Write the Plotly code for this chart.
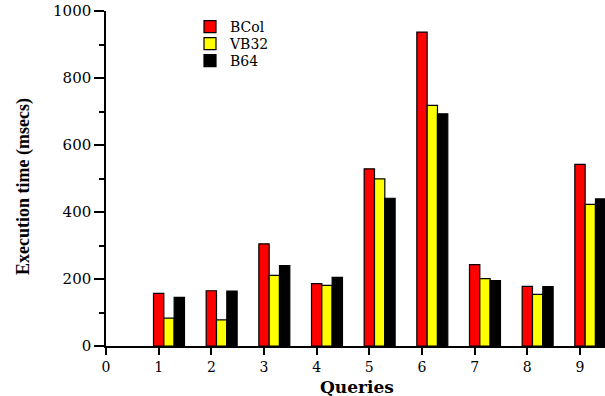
import plotly.graph_objects as go

queries = [1, 2, 3, 4, 5, 6, 7, 8, 9]
bcol = [157, 165, 305, 186, 529, 937, 243, 178, 542]
vb32 = [83, 78, 211, 181, 499, 718, 201, 154, 423]
b64 = [145, 164, 240, 205, 441, 693, 195, 177, 439]

series = [("BCol", bcol, "#ff0000"), ("VB32", vb32, "#ffff00"), ("B64", b64, "#000000")]
bar_w = 0.196
offsets = [-0.098, 0.098, 0.294]
legend_ids = ["legend", "legend2", "legend3"]

W, H = 605, 396
L, R, T, B = 106, 0, 11, 50
pw, ph = W - L - R, H - T - B

fig = go.Figure()
for (name, vals, col), off, lg in zip(series, offsets, legend_ids):
    fig.add_trace(go.Bar(
        x=queries, y=vals, name=name, width=bar_w, offset=off, legend=lg,
        marker=dict(color=col, line=dict(color="black", width=1.2)),
    ))

legend_rows = [27, 44, 61]
legend_common = dict(
    xanchor="left", yanchor="middle",
    font=dict(family="DejaVu Serif", size=14, color="black"),
    bgcolor="rgba(0,0,0,0)", borderwidth=0,
)
legend_layout = {}
for lg, row in zip(legend_ids, legend_rows):
    legend_layout[lg] = dict(x=(190 - L) / pw, y=(H - B - row) / ph, **legend_common)

fig.update_layout(
    width=W, height=H,
    margin=dict(l=L, r=R, t=T, b=B, pad=0, autoexpand=False),
    barmode="overlay",
    plot_bgcolor="white", paper_bgcolor="white",
    font=dict(family="DejaVu Serif", size=15, color="black"),
    showlegend=True,
    xaxis=dict(
        range=[0, 9.475], tickmode="array", tickvals=list(range(0, 10)),
        ticktext=[str(i) for i in range(0, 10)],
        showline=True, linecolor="black", linewidth=1.5,
        ticks="outside", ticklen=7, tickwidth=1.5, tickcolor="black",
        showgrid=False, zeroline=False, automargin=False,
        tickfont=dict(family="DejaVu Serif", size=14),
    ),
    yaxis=dict(
        range=[0, 1000], tickmode="array", tickvals=[0, 200, 400, 600, 800, 1000],
        showline=True, linecolor="black", linewidth=1.5,
        ticks="outside", ticklen=10, tickwidth=1.5, tickcolor="black",
        minor=dict(ticks="outside", dtick=100, tick0=0, ticklen=5, tickwidth=1.5, tickcolor="black", showgrid=False),
        showgrid=False, zeroline=False, automargin=False,
        tickfont=dict(family="DejaVu Serif", size=15),
    ),
    annotations=[
        dict(
            text="<b>Execution time (msecs)</b>", textangle=-90,
            xref="paper", yref="paper", x=(23 - L) / pw, y=(H - B - 187) / ph,
            xanchor="center", yanchor="middle", showarrow=False,
            font=dict(family="Liberation Serif", size=18, color="black"),
        ),
        dict(
            text="<b>Queries</b>",
            xref="paper", yref="paper", x=(357 - L) / pw, y=(H - B - 387) / ph,
            xanchor="center", yanchor="middle", showarrow=False,
            font=dict(family="DejaVu Serif", size=17, color="black"),
        ),
    ],
    **legend_layout,
)

fig.write_html(
    "out.html",
    config={"displayModeBar": False},
    post_script="document.body.style.margin='0';document.body.style.padding='0';document.body.style.overflow='hidden';",
)
